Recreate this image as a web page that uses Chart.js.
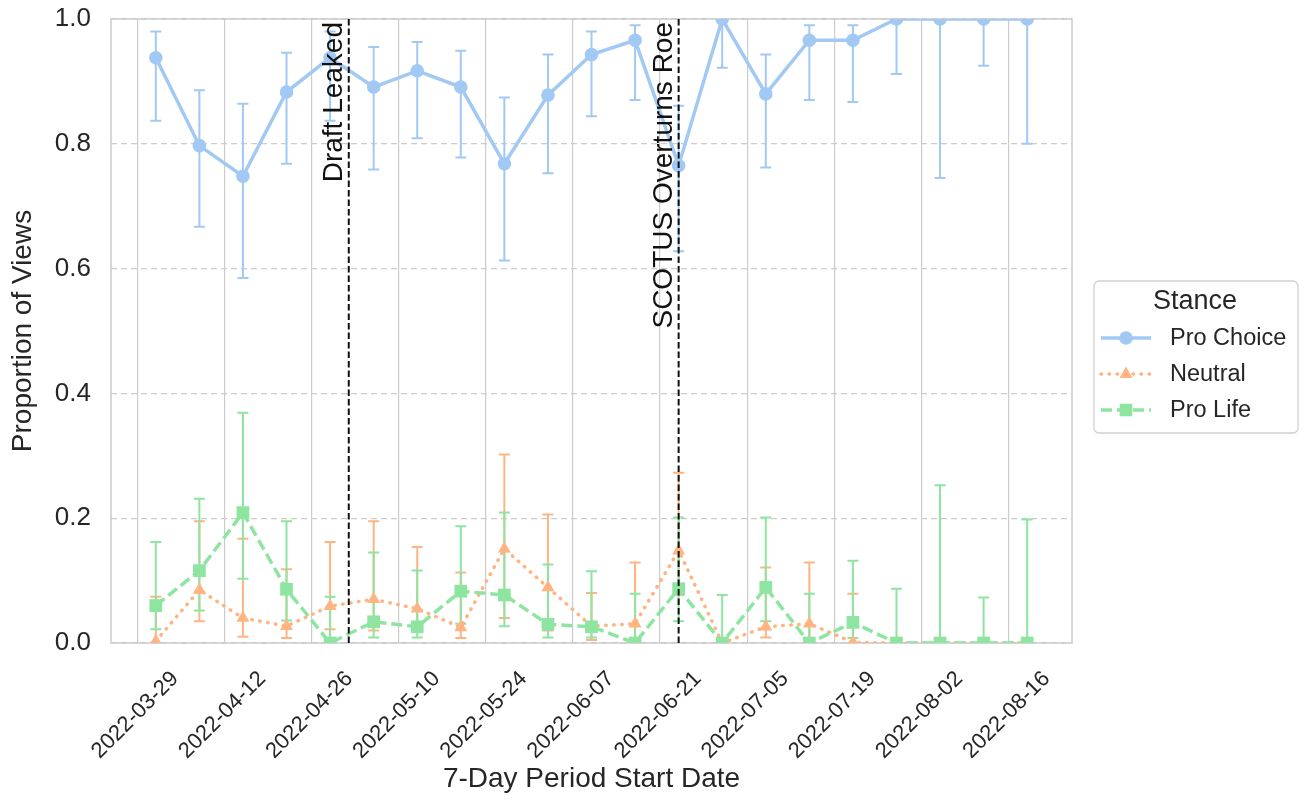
<!DOCTYPE html>
<html>
<head>
<meta charset="utf-8">
<script src="https://cdn.jsdelivr.net/npm/chart.js@4.4.1/dist/chart.umd.min.js"></script>
<style>
  html, body { margin: 0; padding: 0; background: #fff; }
</style>
</head>
<body>
<canvas id="stance-chart" width="1304" height="805"></canvas>
<script>
// weekly periods (start dates) and the shares of views per stance
const periodStarts = ['2022-03-29', '2022-04-05', '2022-04-12', '2022-04-19', '2022-04-26', '2022-05-03', '2022-05-10',
    '2022-05-17', '2022-05-24', '2022-05-31', '2022-06-07', '2022-06-14', '2022-06-21', '2022-06-28',
    '2022-07-05', '2022-07-12', '2022-07-19', '2022-07-26', '2022-08-02', '2022-08-09', '2022-08-16']
const tickLabels = ['2022-03-29', '2022-04-12', '2022-04-26', '2022-05-10', '2022-05-24', '2022-06-07',
    '2022-06-21', '2022-07-05', '2022-07-19', '2022-08-02', '2022-08-16']
const yTicks = [0, 0.2, 0.4, 0.6, 0.8, 1.0]

const proChoice   = [0.938, 0.797, 0.748, 0.883, 0.938, 0.891, 0.917, 0.891, 0.768, 0.878, 0.943, 0.966, 0.765, 1.0, 0.880, 0.966, 0.966, 1.0, 1.0, 1.0, 1.0]
const proChoiceLo = [0.837, 0.667, 0.585, 0.768, 0.837, 0.759, 0.809, 0.778, 0.613, 0.753, 0.844, 0.870, 0.628, 0.922, 0.762, 0.870, 0.867, 0.912, 0.745, 0.925, 0.800]
const proChoiceHi = [0.980, 0.886, 0.864, 0.946, 0.980, 0.955, 0.963, 0.949, 0.874, 0.943, 0.980, 0.990, 0.861, 1.0, 0.943, 0.990, 0.990, 1.0, 1.0, 1.0, 1.0]

const neutral   = [0.003, 0.085, 0.040, 0.027, 0.059, 0.070, 0.055, 0.025, 0.151, 0.089, 0.027, 0.031, 0.148, 0.0, 0.026, 0.031, 0.001, 0, 0, 0, 0]
const neutralLo = [0.0, 0.035, 0.010, 0.008, 0.022, 0.020, 0.020, 0.008, 0.040, 0.020, 0.005, 0.005, 0.077, 0.0, 0.009, 0.005, 0.0, 0, 0, 0, 0]
const neutralHi = [0.074, 0.195, 0.167, 0.118, 0.162, 0.195, 0.154, 0.113, 0.302, 0.206, 0.080, 0.129, 0.273, 0.0, 0.121, 0.129, 0.079, 0, 0, 0, 0]

const proLife   = [0.060, 0.116, 0.209, 0.086, 0.0, 0.034, 0.026, 0.083, 0.077, 0.030, 0.026, 0.0, 0.087, 0.0, 0.089, 0.0, 0.033, 0, 0, 0, 0]
const proLifeLo = [0.022, 0.052, 0.103, 0.036, 0.0, 0.009, 0.009, 0.031, 0.027, 0.009, 0.009, 0.0, 0.035, 0.0, 0.035, 0.0, 0.008, 0, 0, 0, 0]
const proLifeHi = [0.162, 0.231, 0.369, 0.195, 0.074, 0.145, 0.116, 0.187, 0.209, 0.126, 0.115, 0.079, 0.201, 0.077, 0.201, 0.079, 0.132, 0.087, 0.253, 0.073, 0.198]

const eventLabels = ['Draft Leaked', 'SCOTUS Overturns Roe']
const eventDates = ['2022-05-02', '2022-06-24']

const BLUE = '#a1c9f4'
const ORANGE = '#ffb482'
const GREEN = '#8de5a1'
const TEXT = '#262626'
const FONT = '"Liberation Sans", Arial, Helvetica, sans-serif'

const origin = Date.parse(tickLabels[0])
function dayOf(s) {
    return (Date.parse(s) - origin) / 86400000
}
// points sit a few days into each 7-day period
const xs = periodStarts.map(s => dayOf(s) + 3)

const series = [
    { label: 'Pro Choice', values: proChoice, lo: proChoiceLo, hi: proChoiceHi, color: BLUE, style: 'circle', dash: [], cap: 'butt' },
    { label: 'Neutral', values: neutral, lo: neutralLo, hi: neutralHi, color: ORANGE, style: 'triangle', dash: [0.5, 7.5], cap: 'round' },
    { label: 'Pro Life', values: proLife, lo: proLifeLo, hi: proLifeHi, color: GREEN, style: 'rect', dash: [11, 5], cap: 'butt' },
]

function drawMarker(ctx, style, x, y, color) {
    ctx.fillStyle = color
    ctx.beginPath()
    if (style === 'circle') {
        ctx.arc(x, y, 6.8, 0, Math.PI * 2)
    } else if (style === 'triangle') {
        ctx.moveTo(x, y - 7.5)
        ctx.lineTo(x + 6.5, y + 4)
        ctx.lineTo(x - 6.5, y + 4)
        ctx.closePath()
    } else {
        ctx.rect(x - 6.3, y - 6.3, 12.6, 12.6)
    }
    ctx.fill()
}

const extras = {
    id: 'extras',
    beforeDatasetsDraw(chart) {
        const { ctx, chartArea: a, scales: { x, y } } = chart
        ctx.save()
        ctx.strokeStyle = '#cccccc'
        ctx.lineWidth = 1.5
        ctx.strokeRect(a.left, a.top, a.right - a.left, a.bottom - a.top)
        ctx.beginPath()
        ctx.rect(a.left, a.top, a.right - a.left, a.bottom - a.top)
        ctx.clip()
        ctx.lineWidth = 2
        series.forEach(s => {
            ctx.strokeStyle = s.color
            xs.forEach((d, i) => {
                const px = x.getPixelForValue(d)
                const top = y.getPixelForValue(s.hi[i])
                const bot = y.getPixelForValue(s.lo[i])
                ctx.beginPath()
                ctx.moveTo(px, top); ctx.lineTo(px, bot)
                ctx.moveTo(px - 5.5, top); ctx.lineTo(px + 5.5, top)
                ctx.moveTo(px - 5.5, bot); ctx.lineTo(px + 5.5, bot)
                ctx.stroke()
            })
        })
        ctx.restore()
    },
    afterDatasetsDraw(chart) {
        const { ctx, chartArea: a, scales: { x } } = chart
        ctx.save()
        eventDates.forEach((d, i) => {
            const px = x.getPixelForValue(dayOf(d))
            ctx.strokeStyle = '#111'
            ctx.lineWidth = 2
            ctx.setLineDash([6.5, 3])
            ctx.beginPath()
            ctx.moveTo(px, a.top)
            ctx.lineTo(px, a.bottom)
            ctx.stroke()
            ctx.setLineDash([])
            ctx.save()
            ctx.translate(px - 7, a.top + 3)
            ctx.rotate(-Math.PI / 2)
            ctx.fillStyle = '#111'
            ctx.font = '28px ' + FONT
            ctx.textAlign = 'right'
            ctx.textBaseline = 'alphabetic'
            ctx.fillText(eventLabels[i], 0, 0)
            ctx.restore()
        })
        ctx.restore()
    },
    afterDraw(chart) {
        // legend box on the right
        const ctx = chart.ctx
        const bx = 1094, by = 281, bw = 204, bh = 152
        ctx.save()
        ctx.fillStyle = '#fff'
        ctx.strokeStyle = '#d0d0d0'
        ctx.lineWidth = 1.3
        ctx.beginPath()
        ctx.roundRect(bx, by, bw, bh, 5)
        ctx.fill()
        ctx.stroke()
        ctx.fillStyle = TEXT
        ctx.font = '27px ' + FONT
        ctx.textAlign = 'center'
        ctx.textBaseline = 'middle'
        ctx.fillText('Stance', 1195, 302)
        series.forEach((s, i) => {
            const ry = 338 + i * 36
            ctx.strokeStyle = s.color
            ctx.lineWidth = 3.5
            ctx.lineCap = s.cap
            ctx.setLineDash(s.dash)
            ctx.beginPath()
            ctx.moveTo(1101, ry)
            ctx.lineTo(1151, ry)
            ctx.stroke()
            ctx.setLineDash([])
            drawMarker(ctx, s.style, 1126, ry, s.color)
            ctx.fillStyle = TEXT
            ctx.font = '23.5px ' + FONT
            ctx.textAlign = 'left'
            ctx.fillText(s.label, 1170, ry + 1)
        })
        ctx.restore()
    }
}

const datasets = series.map((s, i) => ({
    label: s.label,
    data: s.values.map((v, j) => ({ x: xs[j], y: v })),
    borderColor: s.color,
    backgroundColor: s.color,
    borderWidth: 3.5,
    borderDash: s.dash,
    borderCapStyle: s.cap,
    pointStyle: s.style,
    pointRadius: s.style === 'circle' ? 6.8 : (s.style === 'triangle' ? 7.5 : 9),
    pointBorderWidth: 0,
    pointBackgroundColor: s.color,
    tension: 0,
    order: 3 - i
}))

const config = {
    type: 'line',
    data: { datasets: datasets },
    options: {
        responsive: false,
        animation: false,
        layout: { padding: { left: 0, top: 19, right: 232, bottom: 0 } },
        plugins: { legend: { display: false }, tooltip: { enabled: false } },
        scales: {
            x: {
                type: 'linear',
                min: -4.2,
                max: 150.2,
                afterBuildTicks: s => { s.ticks = tickLabels.map(t => ({ value: dayOf(t) })) },
                afterFit: s => { s.height = 162 },
                ticks: {
                    autoSkip: false,
                    minRotation: 45,
                    maxRotation: 45,
                    labelOffset: 38,
                    padding: 23,
                    color: TEXT,
                    font: { family: FONT, size: 22 },
                    callback: (v, i) => tickLabels[i]
                },
                grid: { color: '#cccccc', lineWidth: 1.2, drawTicks: false },
                border: { display: false },
                title: { display: true, text: '7-Day Period Start Date', color: TEXT, font: { family: FONT, size: 28 }, padding: { top: 0, bottom: 9 } }
            },
            y: {
                min: 0,
                max: 1,
                afterBuildTicks: s => { s.ticks = yTicks.map(v => ({ value: v })) },
                // fixed width, and no extra room above/below for the end labels
                afterFit: s => { s.width = 111; s.paddingTop = 0; s.paddingBottom = 0 },
                ticks: {
                    padding: 20,
                    color: TEXT,
                    font: { family: FONT, size: 26 },
                    callback: v => v.toFixed(1)
                },
                grid: { color: '#cccccc', lineWidth: 1.2, drawTicks: false },
                border: { display: false, dash: [6, 4] },
                title: { display: true, text: 'Proportion of Views', color: TEXT, font: { family: FONT, size: 28 }, padding: { top: 6, bottom: 0 } }
            }
        }
    },
    plugins: [extras]
}

const stanceChart = new Chart(document.getElementById('stance-chart').getContext('2d'), config)
</script>
</body>
</html>
